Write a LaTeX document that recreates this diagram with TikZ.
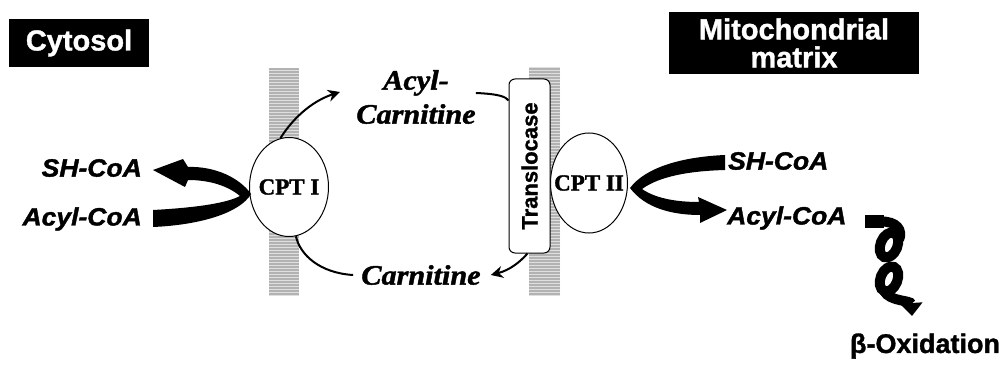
\documentclass[tikz,border=0pt]{standalone}
\usepackage{fontspec}
\setmainfont{Liberation Serif}[BoldFeatures={FakeBold=1.5}, BoldItalicFeatures={FakeBold=1.5, FakeStretch=1.08}]
\newfontfamily\arialf{Liberation Sans}[BoldFeatures={FakeBold=1.2}, BoldItalicFeatures={FakeBold=1.5, FakeStretch=1.06}]
\usetikzlibrary{shapes.geometric,arrows.meta,patterns}
\begin{document}
\begin{tikzpicture}[x=1pt,y=-1pt,
  lbl/.style={font=\arialf\bfseries\itshape\fontsize{25}{30}\selectfont, inner sep=0pt},
  carn/.style={font=\bfseries\itshape\fontsize{28}{34}\selectfont, align=center, inner sep=0pt},
  enz/.style={ellipse, draw, line width=1pt, fill=white, inner sep=-12pt, font=\bfseries\fontsize{23}{23}\selectfont},
  hdr/.style={fill=black, text=white, font=\arialf\bfseries\fontsize{29}{28}\selectfont, align=center, inner sep=0pt},
  thin/.style={line width=2pt},
  tip/.style={-{Stealth[length=12pt,width=12pt]}},
  coil/.style={line width=10pt}
]
\useasboundingbox (0,0) rectangle (1002,377);
% headers
\node[hdr, minimum width=140pt, minimum height=48pt] (cyto) at (79,43) {Cytosol};
\node[hdr, minimum width=250pt, minimum height=62pt] (mito) at (794,43) {Mitochondrial\\matrix};
% membranes
\fill[gray!60] (269,68) rectangle (299,295);
\fill[pattern=horizontal lines, pattern color=gray!25] (269,68) rectangle (299,295);
\fill[gray!60] (529,67) rectangle (560,295);
\fill[pattern=horizontal lines, pattern color=gray!25] (529,67) rectangle (560,295);
% enzymes
\node[enz, minimum width=79pt, minimum height=99pt] (cpt1) at (289,187) {CPT I};
\node[enz, minimum width=77pt, minimum height=100pt] (cpt2) at (589,183) {CPT II};
\node[rotate=90, draw, line width=1pt, fill=white, rounded corners=6pt, minimum width=174pt, minimum height=41pt, inner sep=0pt,
  font=\arialf\bfseries\fontsize{22}{22}\selectfont] (trans) at (529.5,166) {Translocase};
% labels
\node[lbl, anchor=east] (sh1) at (142,168) {SH-CoA};
\node[lbl, anchor=east] (ac1) at (142,219) {Acyl-CoA};
\node[lbl, anchor=west] (sh2) at (728,161) {SH-CoA};
\node[lbl, anchor=west] (ac2) at (727,218) {Acyl-CoA};
\node[carn] (acarn) at (416,97) {Acyl-\\Carnitine};
\node[carn] (carn) at (421,275) {Carnitine};
\node[font=\arialf\bfseries\fontsize{27}{27}\selectfont, inner sep=0pt] (box) at (925,346) {β-Oxidation};
% big arrows
\fill (153,227) -- (153,210) .. controls (190,208) and (225,204) .. (240,196)
  .. controls (228,186) and (210,180) .. (188,180) -- (185,187) -- (153,170) -- (183,159) -- (188,167)
  .. controls (215,166) and (240,178) .. (251,194) .. controls (240,213) and (200,225) .. (153,227) -- cycle;
\fill (725,155) .. controls (680,157) and (645,168) .. (630,188)
  .. controls (645,208) and (672,215) .. (700,215) -- (700,223) -- (727,210) -- (698,197) -- (699,202)
  .. controls (675,202) and (655,198) .. (642,189) .. controls (660,176) and (690,171) .. (725,170) -- cycle;
% thin arrows
\coordinate (a1) at (340,92);
\draw[thin, tip] (cpt1.100) .. controls (295,115) and (315,100) .. (a1);
\draw[thin] ([yshift=-22pt]trans.north east) .. controls (506,97) and (500,94) .. (acarn.east |- 0,93);
\draw[thin] (cpt1.-82) .. controls (300,255) and (320,273) .. ([xshift=-8pt]carn.west);
\draw[thin, tip] ([xshift=-2pt]trans.west) .. controls (520,262) and (510,270) .. ([xshift=10pt]carn.east);
% coil
\fill (865,215) rectangle (884,228);
\draw[coil] (880,221.5) .. controls (897,221) and (903,230) .. (899,240);
\draw[coil, rotate around={-22:(889,245)}] (889,245) ellipse [x radius=8.5, y radius=13];
\draw[coil, rotate around={-22:(889,279)}] (889,279) ellipse [x radius=8.5, y radius=13];
\draw[coil, -{Triangle[width=22pt,length=13pt]}] (884,291) .. controls (890,302) and (911,300) .. (912,316);
\end{tikzpicture}
\end{document}
